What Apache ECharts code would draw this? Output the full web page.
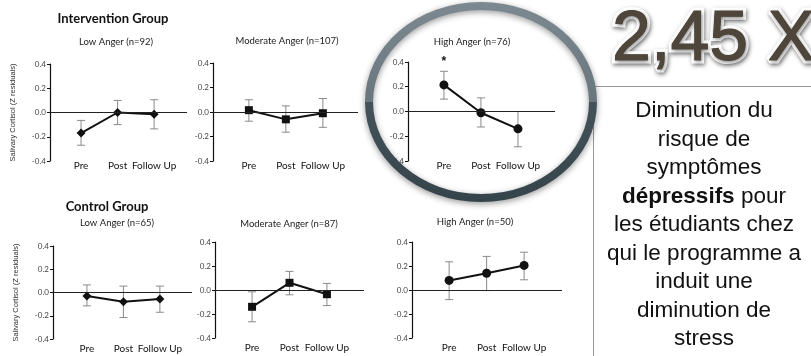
<!DOCTYPE html>
<html>
<head>
<meta charset="utf-8">
<script src="https://cdn.jsdelivr.net/npm/echarts@6/dist/echarts.min.js"></script>
<style>
  html, body { margin: 0; padding: 0; background: #fff; }
  #chart { width: 811px; height: 356px; }
</style>
</head>
<body>
<div id="chart"></div>
<script>
// data
const categories = ['Pre', 'Post', 'Follow Up'];
const yTicks = [-0.4, -0.2, 0, 0.2, 0.4];
const groupTitles = ['Intervention Group', 'Control Group'];
const panelTitles = [
  'Low Anger (n=92)', 'Moderate Anger (n=107)', 'High Anger (n=76)',
  'Low Anger (n=65)', 'Moderate Anger (n=87)', 'High Anger (n=50)'
];

// means and [low, high] error bars per time point
const intLow = [-0.17, 0.0, -0.015];
const intLowErr = [[-0.27, -0.065], [-0.1, 0.1], [-0.135, 0.105]];
const intMod = [0.015, -0.06, -0.01];
const intModErr = [[-0.075, 0.1], [-0.165, 0.05], [-0.125, 0.11]];
const intHigh = [0.215, -0.01, -0.14];
const intHighErr = [[0.1, 0.325], [-0.125, 0.11], [-0.285, 0.0]];
const ctlLow = [-0.03, -0.08, -0.055];
const ctlLowErr = [[-0.115, 0.065], [-0.215, 0.055], [-0.17, 0.055]];
const ctlMod = [-0.14, 0.06, -0.035];
const ctlModErr = [[-0.265, -0.015], [-0.04, 0.155], [-0.13, 0.055]];
const ctlHigh = [0.08, 0.14, 0.205];
const ctlHighErr = [[-0.08, 0.235], [-0.005, 0.28], [0.085, 0.315]];

// significance star: panel index, category index, value
const sigMarks = [[2, 0, 0.4]];

const bigNumber = '2,45 X';
const noteLines = [
  'Diminution du',
  'risque de',
  'symptômes',
  '{b|dépressifs} pour',
  'les étudiants chez',
  'qui le programme a',
  'induit une',
  'diminution de',
  'stress'
];

// layout of the six small plots
const panels = [
  { mean: intLow, err: intLowErr, symbol: 'diamond', size: 9, left: 50, right: 187, top: 64, height: 97, xMin: 0.15, xMax: 3.9, tx: 116, ty: 42, margin: 0, yName: true },
  { mean: intMod, err: intModErr, symbol: 'rect', size: 8, left: 213, right: 358, top: 63, height: 98, xMin: 0.03, xMax: 3.95, tx: 287, ty: 41, margin: 0 },
  { mean: intHigh, err: intHighErr, symbol: 'circle', size: 9, left: 408, right: 555, top: 62, height: 99, xMin: 0.03, xMax: 4.0, tx: 472, ty: 42, margin: 0 },
  { mean: ctlLow, err: ctlLowErr, symbol: 'diamond', size: 9, left: 53, right: 192, top: 246, height: 93, xMin: 0.07, xMax: 3.88, tx: 117, ty: 223, margin: 5, yName: true },
  { mean: ctlMod, err: ctlModErr, symbol: 'rect', size: 8, left: 215, right: 364, top: 242, height: 96, xMin: 0.01, xMax: 3.99, tx: 289, ty: 224, margin: 5 },
  { mean: ctlHigh, err: ctlHighErr, symbol: 'circle', size: 9, left: 412, right: 562, top: 242, height: 96, xMin: 0.01, xMax: 4.01, tx: 475, ty: 222, margin: 5 }
];

const FONT = 'Lato, "Open Sans", sans-serif';
const SANS = '"Liberation Sans", Arial, sans-serif';

const chart = echarts.init(document.getElementById('chart'));

const grid = [], xAxis = [], yAxis = [], series = [];

panels.forEach((p, i) => {
  grid.push({
    left: p.left, top: p.top, width: p.right - p.left, height: p.height,
    outerBoundsMode: 'none'
  });
  xAxis.push({
    type: 'value', gridIndex: i, min: p.xMin, max: p.xMax,
    axisLine: { show: false }, axisTick: { show: false }, splitLine: { show: false },
    axisLabel: {
      customValues: categories.map((c, k) => k + 1),
      formatter: v => categories[Math.round(v) - 1] || '',
      margin: p.margin, fontSize: 10, color: '#111', fontFamily: FONT
    }
  });
  yAxis.push({
    type: 'value', gridIndex: i,
    min: yTicks[0], max: yTicks[yTicks.length - 1], interval: 0.2,
    name: p.yName ? 'Salivary Cortisol (Z residuals)' : '',
    nameLocation: 'middle', nameRotate: 90, nameGap: 33,
    nameTextStyle: { fontSize: 7.5, color: '#333', fontFamily: SANS },
    axisLine: { show: true, lineStyle: { color: '#111', width: 1.2 } },
    axisTick: { show: true, length: 3, lineStyle: { color: '#111' } },
    splitLine: { show: false },
    axisLabel: {
      fontSize: 8, color: '#444', margin: 4, fontFamily: FONT,
      formatter: v => v.toFixed(1)
    }
  });

  series.push({
    type: 'custom', xAxisIndex: i, yAxisIndex: i, silent: true, z: 2,
    data: p.err.map((e, k) => [k + 1, e[0], e[1]]),
    encode: { x: 0, y: [1, 2] },
    renderItem: (params, api) => {
      const x = api.value(0);
      const lo = api.coord([x, api.value(1)]);
      const hi = api.coord([x, api.value(2)]);
      const w = 4;
      const st = { stroke: '#8a8a8a', lineWidth: 1 };
      return {
        type: 'group',
        children: [
          { type: 'line', shape: { x1: lo[0], y1: lo[1], x2: hi[0], y2: hi[1] }, style: st },
          { type: 'line', shape: { x1: lo[0] - w, y1: lo[1], x2: lo[0] + w, y2: lo[1] }, style: st },
          { type: 'line', shape: { x1: hi[0] - w, y1: hi[1], x2: hi[0] + w, y2: hi[1] }, style: st }
        ]
      };
    }
  });

  series.push({
    type: 'line', xAxisIndex: i, yAxisIndex: i, silent: true, z: 3,
    data: p.mean.map((v, k) => [k + 1, v]),
    symbol: p.symbol, symbolSize: p.size, showSymbol: true,
    lineStyle: { color: '#111', width: 2 },
    itemStyle: { color: '#111' },
    markLine: {
      silent: true, symbol: ['none', 'none'], label: { show: false },
      lineStyle: { color: '#222', width: 1.2, type: 'solid' },
      data: [{ yAxis: 0 }]
    }
  });
});

sigMarks.forEach(m => {
  series.push({
    type: 'custom', xAxisIndex: m[0], yAxisIndex: m[0], silent: true, clip: false, z: 4,
    data: [[m[1] + 1, m[2]]],
    renderItem: (params, api) => {
      const pt = api.coord([api.value(0), api.value(1)]);
      return {
        type: 'text',
        x: pt[0], y: pt[1],
        style: { text: '*', fontSize: 12, fontWeight: 'bold', fontFamily: SANS, fill: '#111', align: 'center', verticalAlign: 'middle' }
      };
    }
  });
});

const graphic = [
  { type: 'text', x: 113, y: 19, style: { text: groupTitles[0], fontSize: 13, fontWeight: 'bold', fontFamily: FONT, fill: '#111', align: 'center', verticalAlign: 'middle' } },
  { type: 'text', x: 107, y: 207, style: { text: groupTitles[1], fontSize: 13, fontWeight: 'bold', fontFamily: FONT, fill: '#111', align: 'center', verticalAlign: 'middle' } }
];
panels.forEach((p, i) => {
  graphic.push({ type: 'text', x: p.tx, y: p.ty, style: { text: panelTitles[i], fontSize: 9.5, fontFamily: FONT, fill: '#222', align: 'center', verticalAlign: 'middle' } });
});

// highlight ring around the intervention high-anger plot
graphic.push({
  type: 'ellipse', z: 100, silent: true,
  shape: { cx: 481, cy: 102, rx: 112, ry: 96 },
  style: {
    fill: 'none', lineWidth: 8,
    stroke: new echarts.graphic.LinearGradient(0, 0, 0, 1, [
      { offset: 0, color: '#7d8990' },
      { offset: 0.5, color: '#6a767d' },
      { offset: 0.5, color: '#44525a' },
      { offset: 1, color: '#35434b' }
    ]),
    shadowBlur: 6, shadowColor: 'rgba(0,0,0,0.4)', shadowOffsetY: 2
  }
});

// note box on the right
graphic.push(
  { type: 'line', z: 50, shape: { x1: 593.5, y1: 86.5, x2: 811, y2: 86.5 }, style: { stroke: '#999', lineWidth: 1 } },
  { type: 'line', z: 50, shape: { x1: 593.5, y1: 86.5, x2: 593.5, y2: 356 }, style: { stroke: '#999', lineWidth: 1 } },
  {
    type: 'text', z: 50, x: 612, y: 41,
    style: {
      text: bigNumber, fontSize: 70, fontFamily: SANS,
      fill: '#4e453b', stroke: '#ffffff', lineWidth: 7, verticalAlign: 'middle',
      textShadowColor: 'rgba(0,0,0,0.5)', textShadowBlur: 4, textShadowOffsetX: 1, textShadowOffsetY: 2
    }
  },
  {
    type: 'text', z: 51, x: 612, y: 41,
    style: {
      text: bigNumber, fontSize: 70, fontFamily: SANS,
      fill: '#4e453b', stroke: '#4e453b', lineWidth: 1, verticalAlign: 'middle'
    }
  },
  {
    type: 'text', z: 50, x: 704, y: 97,
    style: {
      text: noteLines.join('\n'), fontSize: 22.5, lineHeight: 28.5,
      fontFamily: SANS, fill: '#111',
      align: 'center', verticalAlign: 'top',
      rich: {
        b: { fontSize: 22.5, lineHeight: 28.5, fontWeight: 'bold', fontFamily: SANS, fill: '#111' }
      }
    }
  }
);

chart.setOption({
  backgroundColor: '#fff',
  animation: false,
  grid, xAxis, yAxis, series, graphic
});
</script>
</body>
</html>
